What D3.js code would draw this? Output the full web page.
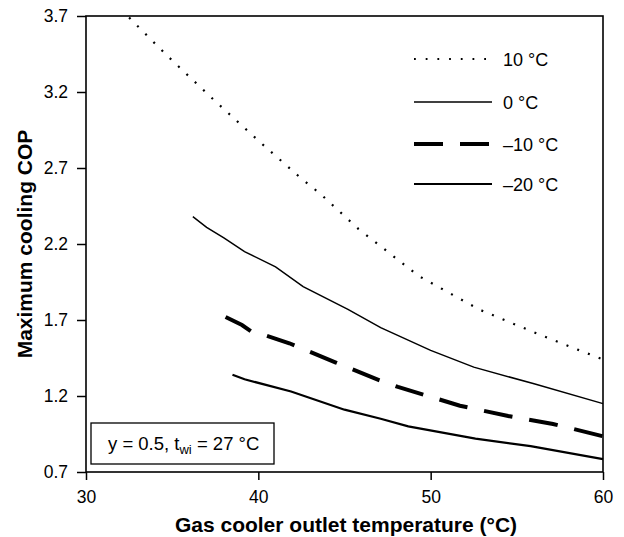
<!DOCTYPE html>
<html>
<head>
<meta charset="utf-8">
<script src="https://cdn.jsdelivr.net/npm/d3@7"></script>
<style>
  html, body { margin: 0; padding: 0; background: #fff; }
  svg { display: block; font-family: "Liberation Sans", Arial, sans-serif; }
</style>
</head>
<body>
<div id="chart"></div>
<script>
// Maximum cooling COP versus gas cooler outlet temperature, one curve per evaporating temperature
const seriesNames = ["10 °C", "0 °C", "\u201310 °C", "\u201320 °C"];

const gcTemp10 = [32.5, 34.7, 37.4, 40.1, 42.4, 43.6, 45.8, 49.3, 52.8, 56.4, 60.0];
const cop10    = [3.69, 3.44, 3.15, 2.87, 2.64, 2.53, 2.30, 1.99, 1.77, 1.60, 1.44];

const gcTemp0  = [36.2, 37.0, 38.0, 39.2, 41.0, 42.6, 45.2, 47.1, 50.0, 52.5, 56.0, 60.0];
const cop0     = [2.38, 2.31, 2.24, 2.15, 2.05, 1.92, 1.77, 1.65, 1.50, 1.39, 1.28, 1.15];

const gcTempM10 = [38.1, 39.05, 39.6, 40.1, 41.8, 44.5, 47.0, 48.1, 51.7, 54.5, 57.1, 60.0];
const copM10    = [1.72, 1.667, 1.623, 1.61, 1.547, 1.42, 1.305, 1.26, 1.136, 1.068, 1.016, 0.935];

const gcTempM20 = [38.5, 39.2, 41.9, 45.0, 47.1, 48.7, 52.6, 55.8, 60.0];
const copM20    = [1.34, 1.31, 1.23, 1.11, 1.05, 1.00, 0.92, 0.87, 0.785];

const xTicks = [30, 40, 50, 60];
const yTicks = [0.7, 1.2, 1.7, 2.2, 2.7, 3.2, 3.7];

const xTitle = "Gas cooler outlet temperature (°C)";
const yTitle = "Maximum cooling COP";

// Stroke style per curve
const styles = [
  { width: 2.2, dash: "2,9.5" },
  { width: 1.5, dash: null },
  { width: 4,   dash: "29,17" },
  { width: 2.2, dash: null }
];

const series = [
  [gcTemp10, cop10],
  [gcTemp0, cop0],
  [gcTempM10, copM10],
  [gcTempM20, copM20]
].map(([xs, ys], i) => ({
  name: seriesNames[i],
  style: styles[i],
  points: xs.map((x, j) => ({ x, y: ys[j] }))
}));

const W = 624, H = 537;
const margin = { left: 86, right: 21, top: 16, bottom: 65 };
const font = "'Liberation Sans', Arial, sans-serif";

const svg = d3.select("#chart").append("svg")
  .attr("width", W).attr("height", H);

const x = d3.scaleLinear().domain([30, 60]).range([margin.left, W - margin.right]);
const y = d3.scaleLinear().domain([0.7, 3.7]).range([H - margin.bottom, margin.top]);

// Axes with outward ticks
const xAxis = svg.append("g")
  .attr("transform", `translate(0,${H - margin.bottom})`)
  .call(d3.axisBottom(x).tickValues(xTicks).tickFormat(d3.format("d")).tickSize(8).tickPadding(11));
const yAxis = svg.append("g")
  .attr("transform", `translate(${margin.left},0)`)
  .call(d3.axisLeft(y).tickValues(yTicks).tickFormat(d3.format(".1f")).tickSize(9).tickPadding(9));

[xAxis, yAxis].forEach(g => {
  g.select(".domain").remove();
  g.selectAll("line").attr("stroke", "#000").attr("stroke-width", 1.5);
  g.selectAll("text").attr("fill", "#000").attr("font-size", 17.5).attr("font-family", font);
});

// Plot frame
svg.append("rect")
  .attr("x", x(30)).attr("y", y(3.7))
  .attr("width", x(60) - x(30)).attr("height", y(0.7) - y(3.7))
  .attr("fill", "none").attr("stroke", "#000").attr("stroke-width", 1.6);

// Curves
const line = d3.line().x(d => x(d.x)).y(d => y(d.y));
svg.append("g").selectAll("path")
  .data(series)
  .join("path")
  .attr("d", d => line(d.points))
  .attr("fill", "none")
  .attr("stroke", "#000")
  .attr("stroke-width", d => d.style.width)
  .attr("stroke-dasharray", d => d.style.dash);

// Legend
const legend = svg.append("g");
const legRows = [59, 102, 144, 184];
series.forEach((s, i) => {
  legend.append("line")
    .attr("x1", 414).attr("x2", i === 2 ? 489 : 492)
    .attr("y1", legRows[i]).attr("y2", legRows[i])
    .attr("stroke", "#000")
    .attr("stroke-width", i === 0 ? 1.8 : s.style.width)
    .attr("stroke-dasharray", i === 0 ? "1.8,9.9" : s.style.dash);
  legend.append("text")
    .attr("x", 503).attr("y", legRows[i] + 6.5)
    .attr("font-size", 18)
    .text(s.name);
});

// Condition note box
svg.append("rect")
  .attr("x", 91).attr("y", 423)
  .attr("width", 183).attr("height", 41)
  .attr("fill", "#fff").attr("stroke", "#000").attr("stroke-width", 1.3);
const note = svg.append("text")
  .attr("x", 108).attr("y", 450)
  .attr("font-size", 18.5);
note.append("tspan").text("y = 0.5, t");
note.append("tspan").attr("font-size", 13).attr("dy", 4).text("wi");
note.append("tspan").attr("dy", -4).text(" = 27 °C");

// Axis titles
svg.append("text")
  .attr("x", 346).attr("y", 532)
  .attr("text-anchor", "middle")
  .attr("font-size", 21).attr("font-weight", "bold")
  .text(xTitle);
svg.append("text")
  .attr("transform", `translate(32,${(y(0.7) + y(3.7)) / 2}) rotate(-90)`)
  .attr("text-anchor", "middle")
  .attr("font-size", 21).attr("font-weight", "bold")
  .text(yTitle);
</script>
</body>
</html>
